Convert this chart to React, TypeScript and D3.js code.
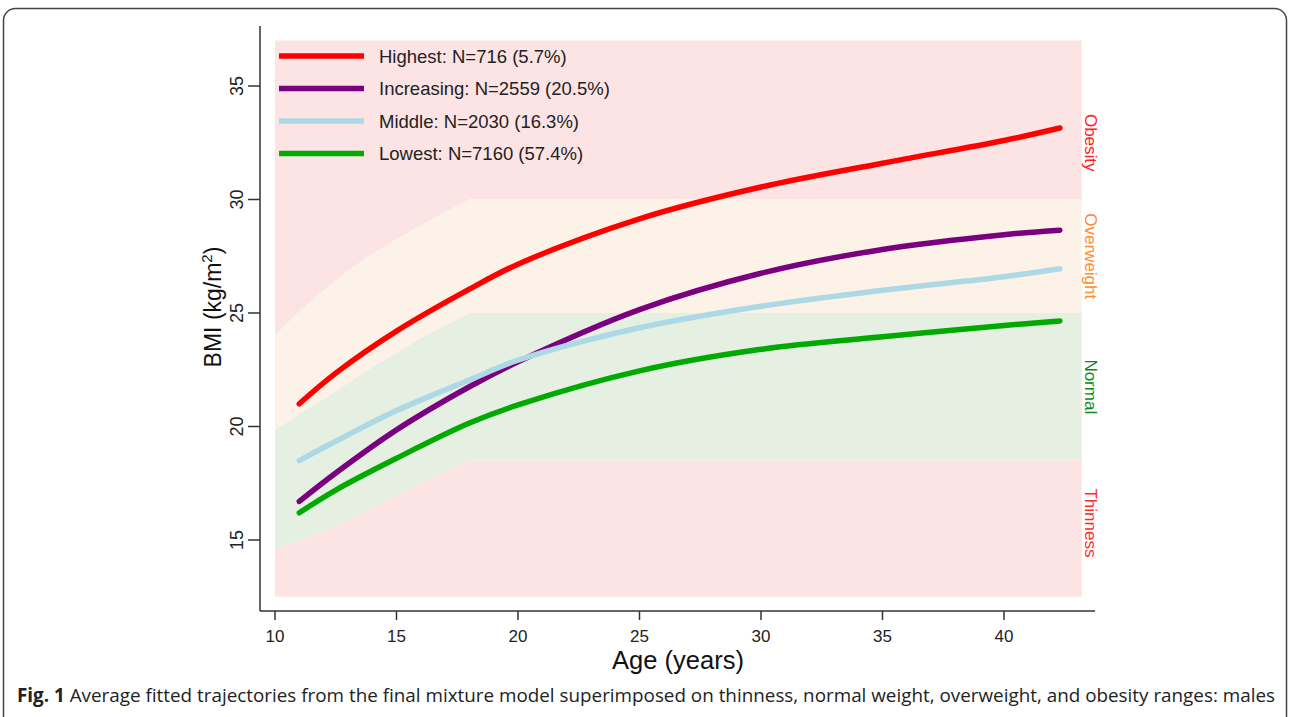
import * as d3 from 'd3'

const W = 1290
const H = 717

// fitted trajectories (age in years, BMI)
const ages = [11, 12.5, 15, 18, 20, 25, 30, 35, 40, 42.3]
const highest = [21.0, 22.35, 24.2, 26.05, 27.15, 29.15, 30.55, 31.6, 32.6, 33.15]
const increasing = [16.7, 17.95, 19.85, 21.75, 22.85, 25.15, 26.75, 27.8, 28.45, 28.65]
const middle = [18.5, 19.35, 20.7, 22.05, 22.92, 24.35, 25.3, 26.0, 26.6, 26.95]
const lowest = [16.2, 17.2, 18.6, 20.15, 20.95, 22.45, 23.4, 23.95, 24.45, 24.65]

const seriesNames = ['Highest: N=716 (5.7%)', 'Increasing: N=2559 (20.5%)', 'Middle: N=2030 (16.3%)', 'Lowest: N=7160 (57.4%)']
const seriesColors = ['#ff0000', '#7a0080', '#add8e6', '#00aa00']
const seriesValues = [highest, increasing, middle, lowest]

// cut-off bands
const cutAges = [10, 11, 12, 13, 14, 15, 16, 17, 18, 43.2]
const obeseCut = [24.0, 25.05, 26.0, 26.85, 27.6, 28.25, 28.85, 29.45, 30, 30]
const overCut = [19.85, 20.55, 21.2, 21.9, 22.6, 23.25, 23.9, 24.45, 25, 25]
const thinCut = [14.65, 14.95, 15.35, 15.85, 16.4, 16.95, 17.5, 18.0, 18.5, 18.5]
const bandTop = 37
const bandBottom = 12.5

const zoneLabels = ['Obesity', 'Overweight', 'Normal', 'Thinness']
const zoneLabelAt = [32.5, 27.5, 21.75, 15.75]
const zoneColors = ['#ff2020', '#ff8c2e', '#11861a', '#ff2a2a']

const xTicks = [10, 15, 20, 25, 30, 35, 40]
const yTicks = [15, 20, 25, 30, 35]

const font = 'Liberation Sans, Arial, sans-serif'

function App() {
  const x = d3.scaleLinear().domain([10, 40]).range([275, 1004])
  const y = d3.scaleLinear().domain([15, 35]).range([540, 86])

  const band = (lower: (i: number) => number, upper: (i: number) => number) =>
    d3.area<number>()
      .x((d) => x(d))
      .y0((_, i) => y(lower(i)))
      .y1((_, i) => y(upper(i)))(cutAges) ?? ''

  const topBand = band((i) => obeseCut[i], () => bandTop)
  const overBand = band((i) => overCut[i], (i) => obeseCut[i])
  const normBand = band((i) => thinCut[i], (i) => overCut[i])
  const thinBand = band(() => bandBottom, (i) => thinCut[i])

  const line = d3.line<number>()
    .x((_, i) => x(ages[i]))
    .y((d) => y(d))
    .curve(d3.curveCatmullRom.alpha(0.5))

  const axisColor = '#333'
  const axisY = 611
  const axisX = 260

  return (
    <svg width={W} height={H} style={{ position: 'absolute', left: 0, top: 0 }}>
      <rect x={0} y={0} width={W} height={H} fill="#fff" />
      <rect x={3.5} y={8.5} width={W - 7} height={H + 10} rx={12} fill="none" stroke="#444" strokeWidth={1.5} />

      <path d={topBand} fill="#fde4e4" />
      <path d={overBand} fill="#fdf2e7" />
      <path d={normBand} fill="#e5f0e3" />
      <path d={thinBand} fill="#fde4e4" />

      {seriesValues.map((vals, i) => (
        <path key={i} d={line(vals) ?? ''} fill="none" stroke={seriesColors[i]} strokeWidth={5.5} strokeLinecap="round" />
      ))}

      {/* legend */}
      {seriesNames.map((name, i) => (
        <g key={name} transform={`translate(0, ${56 + i * 32.5})`}>
          <line x1={279} x2={364} y1={0} y2={0} stroke={seriesColors[i]} strokeWidth={5.5} />
          <text x={379} y={6.5} fontFamily={font} fontSize={18.5} fill="#222">{name}</text>
        </g>
      ))}

      {/* zone labels */}
      {zoneLabels.map((lab, i) => (
        <text key={lab} transform={`translate(1085, ${y(zoneLabelAt[i])}) rotate(90)`}
          textAnchor="middle" fontFamily={font} fontSize={17} fill={zoneColors[i]}>{lab}</text>
      ))}

      {/* axes */}
      <line x1={axisX} x2={axisX} y1={26} y2={axisY} stroke={axisColor} strokeWidth={1.5} />
      <line x1={axisX} x2={1095} y1={axisY} y2={axisY} stroke={axisColor} strokeWidth={1.5} />
      {xTicks.map((t) => (
        <g key={t}>
          <line x1={x(t)} x2={x(t)} y1={axisY} y2={axisY + 9} stroke={axisColor} strokeWidth={1.5} />
          <text x={x(t)} y={axisY + 31} textAnchor="middle" fontFamily={font} fontSize={17} fill="#222">{t}</text>
        </g>
      ))}
      {yTicks.map((t) => (
        <g key={t}>
          <line x1={axisX - 12} x2={axisX} y1={y(t)} y2={y(t)} stroke={axisColor} strokeWidth={1.5} />
          <text transform={`translate(${axisX - 17}, ${y(t)}) rotate(-90)`} textAnchor="middle"
            fontFamily={font} fontSize={18} fill="#222">{t}</text>
        </g>
      ))}

      <text x={678} y={669} textAnchor="middle" fontFamily={font} fontSize={25.5} fill="#111">Age (years)</text>
      <text transform="translate(221, 307) rotate(-90)" textAnchor="middle" fontFamily={font} fontSize={23} fill="#111">
        BMI (kg/m<tspan dy={-9} fontSize={15}>2</tspan><tspan dy={9}>)</tspan>
      </text>

      {/* caption */}
      <text x={17} y={702} fontFamily="Open Sans, sans-serif" fontSize={19} fill="#222"
        textLength={1258} lengthAdjust="spacingAndGlyphs">
        <tspan fontWeight="bold">Fig. 1</tspan> Average fitted trajectories from the final mixture model superimposed on thinness, normal weight, overweight, and obesity ranges: males
      </text>
    </svg>
  )
}

export default App
